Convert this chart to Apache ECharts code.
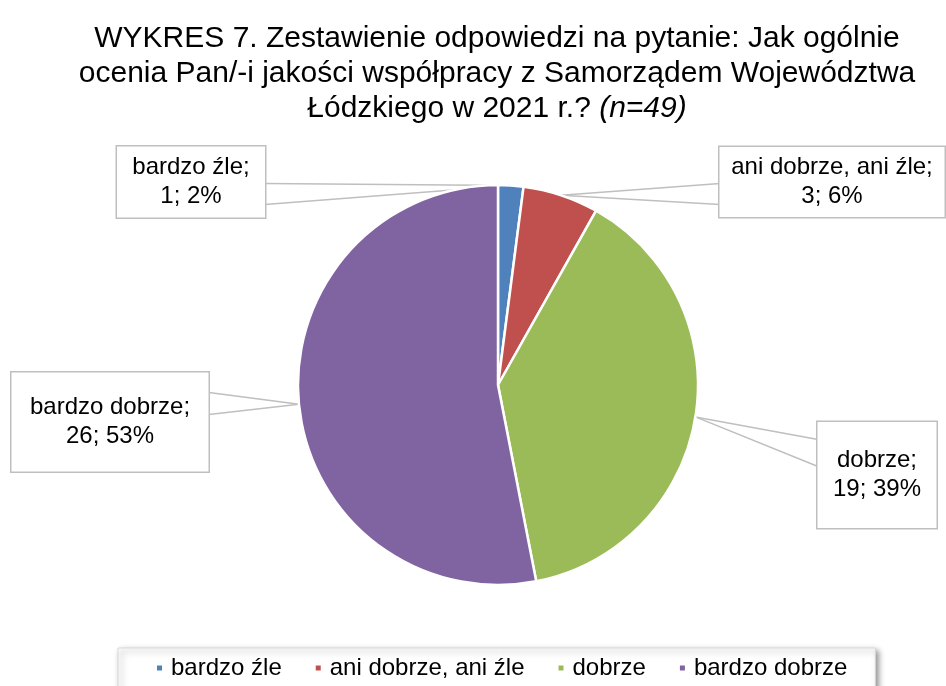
<!DOCTYPE html>
<html><head><meta charset="utf-8">
<script src="https://cdn.jsdelivr.net/npm/echarts@6/dist/echarts.min.js"></script>
<style>html,body{margin:0;padding:0;background:#fff}#c{width:946px;height:686px}</style>
</head><body><div id="c"></div>
<script>
const categories = ['bardzo źle', 'ani dobrze, ani źle', 'dobrze', 'bardzo dobrze'];
const counts = [1, 3, 19, 26];
const percents = [2, 6, 39, 53];
const colors = ['#4F81BD', '#C0504D', '#9BBB59', '#8064A2'];

// label box geometry (center x, center y, width, height)
const boxes = [
  {cx: 191, cy: 182, w: 148, h: 71},
  {cx: 832, cy: 182, w: 225, h: 70},
  {cx: 877, cy: 475, w: 119, h: 106},
  {cx: 110, cy: 422, w: 197, h: 99}
];
// callout pointer base points on the box edges
const attachA = [[265, 183], [720, 183], [818, 440], [209, 392]];
const attachB = [[265, 205], [720, 205], [818, 467], [209, 415]];

const FONT = '"Liberation Sans", Arial, sans-serif';
const chart = echarts.init(document.getElementById('c'));
const mainData = categories.map((c, i) => ({
  name: c,
  value: counts[i],
  itemStyle: {color: colors[i]},
  label: {width: boxes[i].w, height: boxes[i].h}
}));
const ghostData = categories.map((c, i) => ({name: c, value: counts[i]}));

function ghost(points) {
  return {
    type: 'pie',
    center: [498, 385],
    radius: 200,
    startAngle: 90,
    clockwise: true,
    silent: true,
    legendHoverLink: false,
    z: 1,
    itemStyle: {color: 'rgba(0,0,0,0)', borderWidth: 0},
    label: {show: true, formatter: ' ', fontSize: 1, width: 1, height: 1, padding: 0, color: 'rgba(0,0,0,0)'},
    labelLine: {show: true, length: 10, length2: 0, smooth: false, lineStyle: {color: '#bfbfbf', width: 1.5}},
    labelLayout: p => ({x: points[p.dataIndex][0], y: points[p.dataIndex][1], align: 'center', verticalAlign: 'middle'}),
    emphasis: {disabled: true},
    data: ghostData
  };
}

chart.setOption({
  animation: false,
  title: {
    text: 'WYKRES 7. Zestawienie odpowiedzi na pytanie: Jak ogólnie\nocenia Pan/-i jakości współpracy z Samorządem Województwa\nŁódzkiego w 2021 r.? {i|(n=49)}',
    left: 492,
    top: 16,
    textAlign: 'center',
    padding: 5,
    textStyle: {
      fontFamily: FONT, fontSize: 30, fontWeight: 'normal', color: '#000', lineHeight: 35,
      rich: {i: {fontFamily: FONT, fontSize: 30, fontStyle: 'italic', color: '#000', lineHeight: 35}}
    }
  },
  legend: {
    bottom: -34,
    left: 118,
    data: categories.map((c, i) => ({name: c, itemStyle: {color: colors[i]}})),
    icon: 'rect',
    itemWidth: 7,
    itemHeight: 7,
    itemGap: 32,
    padding: [8, 28, 40, 37],
    backgroundColor: '#fff',
    borderColor: '#d9d9d9',
    borderWidth: 1,
    shadowColor: 'rgba(0,0,0,0.45)',
    shadowBlur: 6,
    shadowOffsetX: 3,
    shadowOffsetY: 3,
    textStyle: {fontFamily: FONT, fontSize: 24, color: '#000', padding: [0, 0, 0, 3]}
  },
  series: [
    {
      type: 'pie',
      center: [498, 385],
      radius: 200,
      startAngle: 90,
      clockwise: true,
      z: 2,
      itemStyle: {borderColor: '#fff', borderWidth: 2.5},
      label: {
        show: true,
        formatter: p => p.name + ';\n' + counts[p.dataIndex] + '; ' + percents[p.dataIndex] + '%',
        fontFamily: FONT,
        fontSize: 24,
        lineHeight: 29,
        color: '#000',
        align: 'center',
        verticalAlign: 'middle',
        backgroundColor: '#fff',
        borderColor: '#bfbfbf',
        borderWidth: 1.5,
        padding: 0
      },
      labelLine: {show: false},
      labelLayout: p => ({x: boxes[p.dataIndex].cx, y: boxes[p.dataIndex].cy, align: 'center', verticalAlign: 'middle'}),
      emphasis: {disabled: true},
      data: mainData
    },
    ghost(attachA),
    ghost(attachB)
  ]
});
</script></body></html>
